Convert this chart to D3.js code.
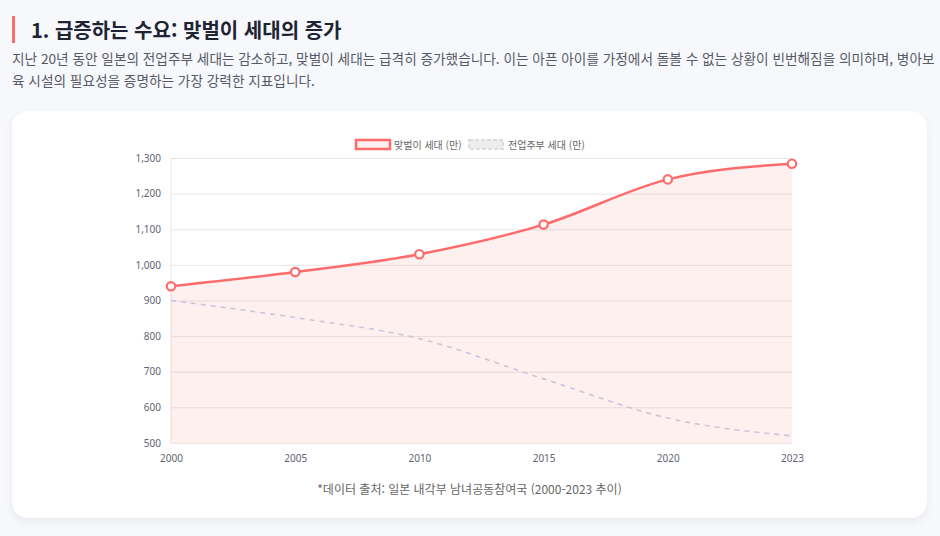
<!DOCTYPE html>
<html lang="ko">
<head>
<meta charset="utf-8">
<script src="https://cdn.jsdelivr.net/npm/d3@7"></script>
<style>
  body {
    margin: 0;
    background: #f7f8fc;
    font-family: "Noto Sans CJK KR", "Noto Sans", sans-serif;
    width: 940px;
    height: 536px;
    overflow: hidden;
    position: relative;
  }
  h2 {
    position: absolute;
    left: 12px;
    top: 16px;
    margin: 0;
    padding-left: 16px;
    border-left: 3px solid #ff6b6b;
    font-size: 20px;
    line-height: 27px;
    font-weight: 700;
    color: #1e2433;
  }
  p.desc {
    position: absolute;
    left: 12px;
    top: 47px;
    width: 926px;
    margin: 0;
    font-size: 13.65px;
    line-height: 22px;
    color: #555b66;
    word-break: break-all;
  }
  .card {
    position: absolute;
    left: 12px;
    top: 111px;
    width: 915px;
    height: 407px;
    background: #fff;
    border-radius: 16px;
    box-shadow: 0 4px 10px rgba(0, 0, 0, 0.06);
  }
  .card svg { position: absolute; left: 0; top: 0; }
  .source {
    position: absolute;
    left: 0;
    width: 915px;
    top: 369px;
    text-align: center;
    font-size: 12px;
    color: #666;
  }
  .tick text { fill: #5f6472; font-size: 10px; font-family: "Noto Sans", sans-serif; }
</style>
</head>
<body>
<h2>1. 급증하는 수요: 맞벌이 세대의 증가</h2>
<p class="desc">지난 20년 동안 일본의 전업주부 세대는 감소하고, 맞벌이 세대는 급격히 증가했습니다. 이는 아픈 아이를 가정에서 돌볼 수 없는 상황이 빈번해짐을 의미하며, 병아보육 시설의 필요성을 증명하는 가장 강력한 지표입니다.</p>
<div class="card" id="card">
  <div class="source">*데이터 출처: 일본 내각부 남녀공동참여국 (2000-2023 추이)</div>
</div>
<script>
const years = ['2000', '2005', '2010', '2015', '2020', '2023'];
const dualIncome = [940, 980, 1030, 1113, 1240, 1284];
const housewife = [900, 852, 793, 680, 570, 520];
const yTicks = [500, 600, 700, 800, 900, 1000, 1100, 1200, 1300];
const seriesNames = ['맞벌이 세대 (만)', '전업주부 세대 (만)'];

const width = 915, height = 407;
const plot = { left: 159, right: 780, top: 47, bottom: 332 };

const svg = d3.select('#card')
  .append('svg')
  .attr('width', width)
  .attr('height', height);

const x = d3.scalePoint().domain(years).range([plot.left, plot.right]);
const y = d3.scaleLinear().domain([500, 1300]).range([plot.bottom, plot.top]);

// gridlines
svg.append('g')
  .attr('transform', `translate(${plot.left},0)`)
  .call(d3.axisLeft(y).tickValues(yTicks).tickSize(-(plot.right - plot.left)).tickFormat(''))
  .call(g => g.select('.domain').remove())
  .call(g => g.selectAll('line').attr('stroke', '#e6e6e6'));

// left border line
svg.append('line')
  .attr('x1', plot.left).attr('x2', plot.left)
  .attr('y1', plot.top).attr('y2', plot.bottom)
  .attr('stroke', '#e6e6e6');

const curve = d3.curveMonotoneX;

// area under dual-income line
svg.append('path')
  .datum(dualIncome)
  .attr('fill', 'rgba(255, 107, 107, 0.1)')
  .attr('d', d3.area()
    .x((d, i) => x(years[i]))
    .y0(y(500))
    .y1(d => y(d))
    .curve(curve));

// housewife dashed line
svg.append('path')
  .datum(housewife)
  .attr('fill', 'none')
  .attr('stroke', '#c8c6d8')
  .attr('stroke-width', 1.6)
  .attr('stroke-dasharray', '5,5')
  .attr('d', d3.line()
    .x((d, i) => x(years[i]))
    .y(d => y(d))
    .curve(curve));

// dual-income line
svg.append('path')
  .datum(dualIncome)
  .attr('fill', 'none')
  .attr('stroke', '#ff6b6b')
  .attr('stroke-width', 2.5)
  .attr('d', d3.line()
    .x((d, i) => x(years[i]))
    .y(d => y(d))
    .curve(curve));

svg.append('g')
  .selectAll('circle')
  .data(dualIncome)
  .join('circle')
  .attr('cx', (d, i) => x(years[i]))
  .attr('cy', d => y(d))
  .attr('r', 4.2)
  .attr('fill', '#fff')
  .attr('stroke', '#ff6b6b')
  .attr('stroke-width', 2.2);

// axes
svg.append('g')
  .attr('transform', `translate(${plot.left - 2},0)`)
  .call(d3.axisLeft(y).tickValues(yTicks).tickSize(0).tickPadding(8).tickFormat(d3.format(',')))
  .call(g => g.select('.domain').remove());

svg.append('g')
  .attr('transform', `translate(0,${plot.bottom})`)
  .call(d3.axisBottom(x).tickSize(0).tickPadding(12))
  .call(g => g.select('.domain').attr('stroke', '#e6e6e6'));

// legend
const legend = svg.append('g').attr('font-size', 10).attr('fill', '#666')
  .style('font-family', '"Noto Sans CJK KR", sans-serif');
legend.append('rect')
  .attr('x', 344).attr('y', 29).attr('width', 34).attr('height', 9)
  .attr('fill', 'rgba(255, 107, 107, 0.1)')
  .attr('stroke', '#ff6b6b').attr('stroke-width', 2.5);
legend.append('text').attr('x', 382).attr('y', 37.5).text(seriesNames[0]);
legend.append('rect')
  .attr('x', 457).attr('y', 29).attr('width', 34).attr('height', 9)
  .attr('fill', '#ececec')
  .attr('stroke', '#dcdcdc').attr('stroke-width', 2)
  .attr('stroke-dasharray', '4,2');
legend.append('text').attr('x', 496).attr('y', 37.5).text(seriesNames[1]);
</script>
</body>
</html>
